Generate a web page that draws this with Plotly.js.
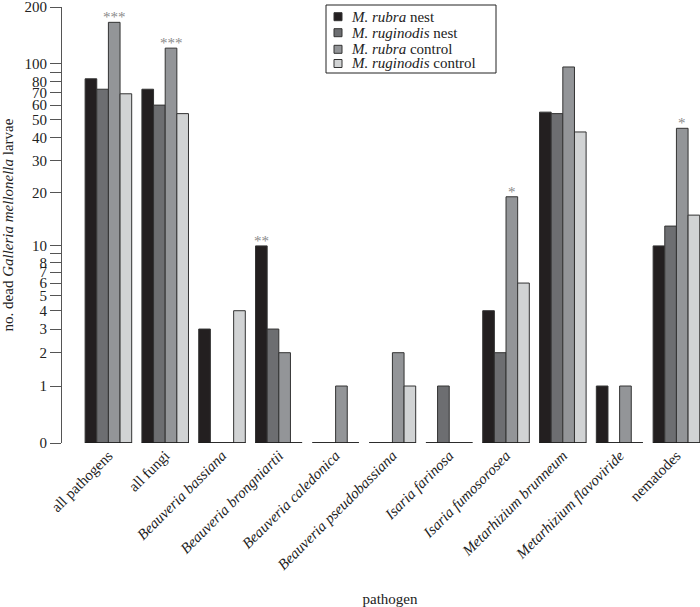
<!DOCTYPE html>
<html>
<head>
<meta charset="utf-8">
<script src="https://cdn.plot.ly/plotly-3.0.1.min.js"></script>
<style>html,body{margin:0;padding:0;background:#fff;}#chart{width:700px;height:607px;}</style>
</head>
<body>
<div id="chart"></div>
<script>
// ---- data ----
const categories = ['all pathogens','all fungi','Beauveria bassiana','Beauveria brongniartii','Beauveria caledonica','Beauveria pseudobassiana','Isaria farinosa','Isaria fumosorosea','Metarhizium brunneum','Metarhizium flavoviride','nematodes'];
const italicCategory = [false,false,true,true,true,true,true,true,true,true,false];
const seriesNames = ['<i>M. rubra</i> nest','<i>M. ruginodis</i> nest','<i>M. rubra</i> control','<i>M. ruginodis</i> control'];
const rubraNest        = [83, 73, 3, 10, 0, 0, 0, 4, 55, 1, 10];
const ruginodisNest    = [73, 60, 0, 3, 0, 0, 1, 2, 54, 0, 13];
const rubraControl     = [166, 121, 0, 2, 1, 2, 0, 19, 96, 1, 45];
const ruginodisControl = [69, 54, 4, 0, 0, 1, 0, 6, 43, 0, 15];
const yTicks      = [0, 1, 2, 3, 4, 5, 6, 7, 8, 9, 10, 20, 30, 40, 50, 60, 70, 80, 90, 100, 200];
const yTickLabels = ['0','1','2','3','4','5','6','7','8','','10','20','30','40','50','60','70','80','','100','200'];
const sigCategory = ['all pathogens','all fungi','Beauveria brongniartii','Isaria fumosorosea','nematodes'];
const sigSeries   = [2, 2, 0, 2, 2];
const sigLabel    = ['***','***','**','*','*'];

// ---- styling ----
const colors = ['#231f20','#6d6e71','#939598','#d1d3d4'];
const serif = 'Liberation Serif, Times New Roman, serif';
const bargap = 0.18;
const allSeries = [rubraNest, ruginodisNest, rubraControl, ruginodisControl];
const tr = v => Math.log10(v + 1);
const idx = categories.map((c, i) => i);

const traces = allSeries.map((vals, s) => ({
  type: 'bar',
  name: seriesNames[s],
  x: idx,
  y: vals.map(tr),
  marker: {color: colors[s], line: {color: '#333', width: 1}},
  hoverinfo: 'skip',
  showlegend: false
}));

// baseline segment under each group (zero-valued bars are drawn as a line)
const bx = [], by = [];
const half = (1 - bargap) / 2;
idx.forEach(i => { bx.push(i - half, i + half, null); by.push(0, 0, null); });
traces.push({type: 'scatter', mode: 'lines', x: bx, y: by, line: {color: '#1a1a1a', width: 1.6},
  showlegend: false, hoverinfo: 'skip'});

const barW = (1 - bargap) / allSeries.length;
const annotations = sigCategory.map((c, k) => {
  const i = categories.indexOf(c);
  const s = sigSeries[k];
  return {
    x: i - half + barW * (s + 0.5), y: tr(allSeries[s][i]),
    xref: 'x', yref: 'y', yanchor: 'bottom', yshift: -5,
    text: sigLabel[k], showarrow: false,
    font: {family: serif, size: 15, color: '#8a8a8a'}
  };
});

// ---- page geometry (pixels) ----
const W = 700, H = 607, mL = 61, mR = 0, mT = 7, mB = 164;
const pw = W - mL - mR, ph = H - mT - mB;
const px = x => (x - mL) / pw;          // pixel -> paper x
const py = y => (H - mB - y) / ph;      // pixel -> paper y

// legend box drawn as a layout decoration
const shapes = [{type: 'rect', xref: 'paper', yref: 'paper',
  x0: px(326), x1: px(496), y0: py(73), y1: py(5),
  line: {color: '#222', width: 1}, fillcolor: '#fff', layer: 'above'}];
const legendRows = [16.7, 32.7, 49.3, 63.5];
seriesNames.forEach((n, s) => {
  const yc = legendRows[s];
  shapes.push({type: 'rect', xref: 'paper', yref: 'paper',
    x0: px(334), x1: px(342), y0: py(yc + 4), y1: py(yc - 4),
    line: {color: '#333', width: 1}, fillcolor: colors[s], layer: 'above'});
  annotations.push({xref: 'paper', yref: 'paper', x: px(349), y: py(yc),
    xanchor: 'left', yanchor: 'middle', text: n, showarrow: false,
    font: {family: serif, size: 15, color: '#222'}});
});

const layout = {
  width: W, height: H,
  margin: {l: mL, r: mR, t: mT, b: mB, pad: 0},
  paper_bgcolor: '#fff', plot_bgcolor: '#fff',
  barmode: 'group', bargap: bargap, bargroupgap: 0,
  font: {family: serif, size: 15, color: '#222'},
  showlegend: false,
  xaxis: {
    domain: [px(80), 1],
    range: [-0.5, 10.415],
    tickmode: 'array', tickvals: idx,
    ticktext: categories.map((c, i) => italicCategory[i] ? '<i>' + c + '</i>' : c),
    tickangle: -45, ticks: '', showline: false, showgrid: false, zeroline: false,
    tickfont: {family: serif, size: 15, color: '#222'},
    title: {text: 'pathogen', font: {family: serif, size: 15, color: '#222'}, standoff: 27},
    automargin: false
  },
  yaxis: {
    anchor: 'free', position: 0,
    range: [0, tr(200) + 0.0005],
    tickmode: 'array', tickvals: yTicks.map(tr), ticktext: yTickLabels,
    ticks: 'outside', ticklen: 11, tickcolor: '#555', tickwidth: 1,
    ticklabeloverflow: 'allow',
    showline: true, linecolor: '#555', linewidth: 1,
    showgrid: false, zeroline: false,
    tickfont: {family: serif, size: 15, color: '#222'},
    title: {text: 'no. dead <i>Galleria mellonella</i> larvae', font: {family: serif, size: 15, color: '#222'}, standoff: 6},
    automargin: false
  },
  shapes: shapes,
  annotations: annotations
};

Plotly.newPlot('chart', traces, layout, {displayModeBar: false, staticPlot: true});
</script>
</body>
</html>
